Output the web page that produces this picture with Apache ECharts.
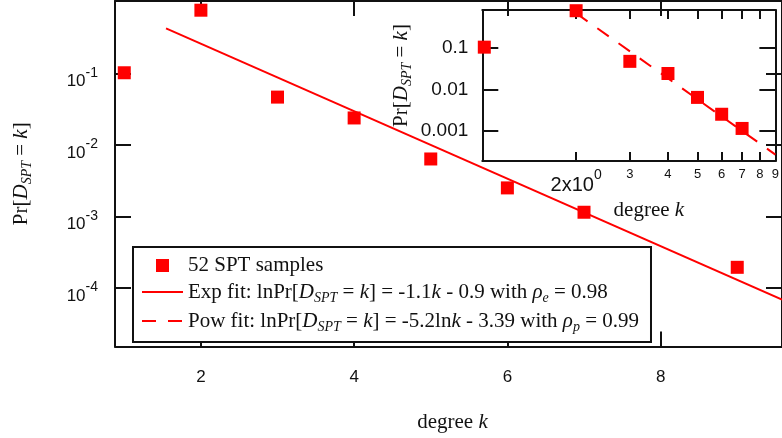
<!DOCTYPE html>
<html><head><meta charset="utf-8">
<script src="https://cdn.jsdelivr.net/npm/echarts@6/dist/echarts.min.js"></script>
<style>html,body{margin:0;padding:0;background:#fff}#c{width:782px;height:438px}</style>
</head><body><div id="c"></div>
<script>
// ---- data ----
const degrees = [1, 2, 3, 4, 5, 6, 7, 9];
const probs = [0.103, 0.773, 0.047, 0.024, 0.0064, 0.00252, 0.00115, 0.000195];
const insetCount = 7; // inset shows k = 1..7
const expFitK = [1.545, 9.584];
const expFitPr = [0.43, 0.000069];
const powFitK = [2, 9];
const powFitPr = [0.673, 0.000271];
const mainXTicks = [2, 4, 6, 8];
const mainYTicks = [0.1, 0.01, 0.001, 0.0001];
const insetXTicks = [2, 3, 4, 5, 6, 7, 8, 9];
const insetYTicks = [0.1, 0.01, 0.001];
const seriesNames = ['52 SPT samples', 'Exp fit', 'Pow fit'];
const legendText = {
  '52 SPT samples': '{r|52 SPT samples}',
  'Exp fit': '{r|Exp fit: lnPr[}{i|D}{s|SPT}{r| = }{i|k}{r|] = -1.1}{i|k}{r| - 0.9 with }{i|ρ}{s|e}{r| = 0.98}',
  'Pow fit': '{r|Pow fit: lnPr[}{i|D}{s|SPT}{r| = }{i|k}{r|] = -5.2ln}{i|k}{r| - 3.39 with }{i|ρ}{s|p}{r| = 0.99}'
};
const yName = '{r|Pr[}{i|D}{s|SPT}{r| = }{i|k}{r|]}';
const xName = '{r|degree }{i|k}';

// ---- styles ----
const SERIF = 'Liberation Serif', SANS = 'Liberation Sans';
const INK = '#111';
const RED = '#ff0000';
const serifRich = {
  r: {fontFamily: SERIF, fontSize: 21, color: INK, lineHeight: 26},
  i: {fontFamily: SERIF, fontSize: 21, fontStyle: 'italic', color: INK, lineHeight: 26},
  s: {fontFamily: SERIF, fontSize: 14, fontStyle: 'italic', color: INK, lineHeight: 14, padding: [12, 0, 0, 0]}
};
const axLine = {show: true, onZero: false, lineStyle: {color: INK, width: 2}};
const noSymbol = {opacity: 0};

const chart = echarts.init(document.getElementById('c'), null, {renderer: 'canvas'});
chart.setOption({
  animation: false,
  backgroundColor: '#fff',
  grid: [
    {left: 112.7, top: 1, right: -1, bottom: 86},
    {left: 482.3, top: 10, right: 2, bottom: 277}
  ],
  xAxis: [
    {gridIndex: 0, type: 'value', position: 'bottom', min: 0.879, max: 9.584,
     axisLine: axLine, splitLine: {show: false},
     axisTick: {inside: true, length: 15, customValues: mainXTicks, lineStyle: {color: INK, width: 2}},
     axisLabel: {customValues: mainXTicks, margin: 22, fontFamily: SANS, fontSize: 17, color: INK},
     name: xName, nameLocation: 'middle', nameGap: 63,
     nameTextStyle: {rich: serifRich, padding: [0, 0, 0, 8]}},
    {gridIndex: 0, type: 'value', position: 'top', min: 0.879, max: 9.584,
     axisLine: axLine, splitLine: {show: false},
     axisTick: {inside: true, length: 15, customValues: mainXTicks, lineStyle: {color: INK, width: 2}},
     axisLabel: {show: false}},
    {gridIndex: 1, type: 'log', position: 'bottom', min: 0.985, max: 9,
     axisLine: axLine, splitLine: {show: false}, minorTick: {show: false},
     axisTick: {inside: true, length: 9, customValues: insetXTicks, lineStyle: {color: INK, width: 2}},
     axisLabel: {customValues: insetXTicks, margin: 7, align: 'center',
       fontFamily: SANS, fontSize: 13, color: INK,
       formatter: v => Math.abs(v - 2) < 1e-9 ? '{big|2x10}{sup|0}' : '{n|' + v + '}',
       rich: {
         n: {fontFamily: SANS, fontSize: 13, lineHeight: 13, color: INK},
         big: {fontFamily: SANS, fontSize: 20, lineHeight: 20, color: INK, padding: [7, 0, 0, 0], verticalAlign: 'top'},
         sup: {fontFamily: SANS, fontSize: 14, lineHeight: 14, color: INK, verticalAlign: 'top'}
       }},
     name: xName, nameLocation: 'middle', nameGap: 36,
     nameTextStyle: {rich: serifRich, padding: [0, 0, 0, 40]}},
    {gridIndex: 1, type: 'log', position: 'top', min: 0.985, max: 9,
     axisLine: axLine, splitLine: {show: false},
     axisTick: {inside: true, length: 9, customValues: insetXTicks, lineStyle: {color: INK, width: 2}},
     axisLabel: {show: false}}
  ],
  yAxis: [
    {gridIndex: 0, type: 'log', position: 'left', min: 0.0000152, max: 1.04,
     axisLine: axLine, splitLine: {show: false},
     axisTick: {inside: true, length: 16, customValues: mainYTicks, lineStyle: {color: INK, width: 2}},
     axisLabel: {customValues: mainYTicks, margin: 17,
       fontFamily: SANS, fontSize: 17, color: INK,
       formatter: v => '{base|10}{pow|' + Math.round(Math.log10(v)) + '}',
       rich: {
         base: {fontFamily: SANS, fontSize: 17, lineHeight: 17, color: INK, padding: [8, 0, 0, 0], verticalAlign: 'top'},
         pow: {fontFamily: SANS, fontSize: 14, lineHeight: 14, color: INK, padding: [1, 0, 0, 0], verticalAlign: 'top'}
       }},
     name: yName, nameLocation: 'middle', nameGap: 81,
     nameTextStyle: {rich: serifRich}},
    {gridIndex: 0, type: 'log', position: 'right', min: 0.0000152, max: 1.04,
     axisLine: axLine, splitLine: {show: false},
     axisTick: {inside: true, length: 16, customValues: mainYTicks, lineStyle: {color: INK, width: 2}},
     axisLabel: {show: false}},
    {gridIndex: 1, type: 'log', position: 'left', min: 0.00019, max: 0.804,
     axisLine: axLine, splitLine: {show: false},
     axisTick: {inside: true, length: 16, customValues: insetYTicks, lineStyle: {color: INK, width: 2}},
     axisLabel: {customValues: insetYTicks, margin: 14, fontFamily: SANS, fontSize: 19, color: INK,
       formatter: v => String(v)},
     name: yName, nameLocation: 'middle', nameGap: 68,
     nameTextStyle: {rich: serifRich, padding: [0, 0, 0, 20]}},
    {gridIndex: 1, type: 'log', position: 'right', min: 0.00019, max: 0.804,
     axisLine: axLine, splitLine: {show: false},
     axisTick: {inside: true, length: 16, customValues: insetYTicks, lineStyle: {color: INK, width: 2}},
     axisLabel: {show: false}}
  ],
  legend: {
    orient: 'vertical', left: 133, top: 247,
    padding: [8, 12, 8, 8], itemGap: 3, itemWidth: 41, itemHeight: 13,
    backgroundColor: '#fff', borderColor: INK, borderWidth: 2, borderRadius: 0,
    selectedMode: false,
    data: [
      {name: seriesNames[0], icon: 'path://M0,0H10V10H0Z'},
      {name: seriesNames[1], itemStyle: noSymbol},
      {name: seriesNames[2], itemStyle: noSymbol}
    ],
    symbolKeepAspect: true,
    formatter: n => legendText[n],
    textStyle: {rich: serifRich}
  },
  series: [
    {name: seriesNames[0], type: 'scatter', xAxisIndex: 0, yAxisIndex: 0,
     symbol: 'rect', symbolSize: 13, itemStyle: {color: RED, opacity: 1}, z: 3,
     data: degrees.map((k, i) => [k, probs[i]])},
    {name: seriesNames[1], type: 'line', xAxisIndex: 0, yAxisIndex: 0,
     symbol: 'none', showSymbol: false, itemStyle: {color: RED}, lineStyle: {color: RED, width: 2}, z: 2,
     data: expFitK.map((k, i) => [k, expFitPr[i]])},
    {name: seriesNames[2], type: 'line', xAxisIndex: 2, yAxisIndex: 2,
     symbol: 'none', showSymbol: false, itemStyle: {color: RED}, lineStyle: {color: RED, width: 2, type: [14, 12]}, z: 2,
     data: powFitK.map((k, i) => [k, powFitPr[i]])},
    {name: 'inset samples', type: 'scatter', xAxisIndex: 2, yAxisIndex: 2,
     symbol: 'rect', symbolSize: 13, itemStyle: {color: RED, opacity: 1}, z: 3,
     data: degrees.slice(0, insetCount).map((k, i) => [k, probs[i]])}
  ]
});
</script></body></html>
